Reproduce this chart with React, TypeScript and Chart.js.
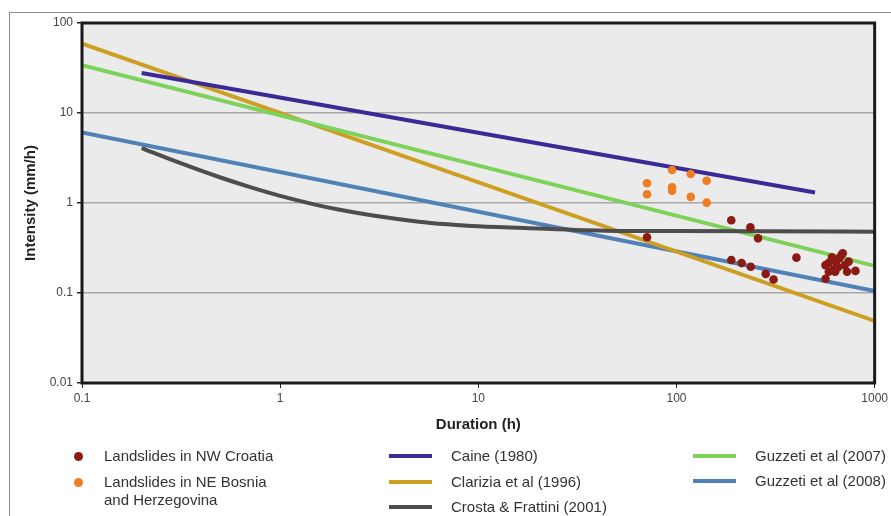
import React, { useEffect, useRef } from "react";
import { Chart, registerables } from "chart.js";

Chart.register(...registerables);

// Axis ticks (log-log)
const xTicks = [0.1, 1, 10, 100, 1000];
const yTicks = [0.01, 0.1, 1, 10, 100];

// Landslides in NW Croatia (duration h, intensity mm/h)
const croatiaDuration = [71, 189, 236, 258, 189, 213, 237, 282, 309, 403, 565, 800, 565, 587, 609, 621, 638, 653, 664, 679, 690, 706, 726, 632, 587, 739];
const croatiaIntensity = [0.416, 0.642, 0.537, 0.405, 0.233, 0.215, 0.196, 0.163, 0.141, 0.247, 0.144, 0.176, 0.204, 0.217, 0.249, 0.183, 0.223, 0.193, 0.243, 0.264, 0.276, 0.204, 0.172, 0.172, 0.172, 0.223];

// Landslides in NE Bosnia and Herzegovina
const bosniaDuration = [71, 71, 95, 95, 95, 118, 118, 142, 142];
const bosniaIntensity = [1.66, 1.25, 2.33, 1.49, 1.37, 2.1, 1.17, 1.77, 1.01];

// Threshold curves
const caineDuration = [0.2, 500];
const caineIntensity = [27.8, 1.31];

const clariziaDuration = [0.1, 1000];
const clariziaIntensity = [58.9, 0.049];

const crostaDuration = [0.2, 0.3, 0.5, 0.7, 1, 1.5, 2, 3, 5, 7, 10, 20, 50, 100, 1000];
const crostaIntensity = [4.08, 2.88, 1.92, 1.51, 1.2, 0.96, 0.84, 0.72, 0.62, 0.58, 0.55, 0.52, 0.49, 0.487, 0.48];

const guzzetti2007Duration = [0.1, 1000];
const guzzetti2007Intensity = [34, 0.2];

const guzzetti2008Duration = [0.1, 1000];
const guzzetti2008Intensity = [6.06, 0.105];

const COLORS = {
  croatia: "#8c1a14",
  bosnia: "#ef7d22",
  caine: "#3b2a96",
  clarizia: "#cc9f22",
  crosta: "#4d4d4d",
  g2007: "#7dd35a",
  g2008: "#5082b9",
};

const zip = (xs: number[], ys: number[]) => xs.map((x, i) => ({ x, y: ys[i] }));

const FONT = "'Liberation Sans', Arial, sans-serif";

const plotFrame = {
  id: "plotFrame",
  beforeDraw(chart: any) {
    const { ctx, chartArea: a } = chart;
    ctx.save();
    ctx.fillStyle = "#ebebeb";
    ctx.fillRect(a.left, a.top, a.right - a.left, a.bottom - a.top);
    ctx.restore();
  },
  afterDraw(chart: any) {
    const { ctx, chartArea: a } = chart;
    ctx.save();
    ctx.strokeStyle = "#1a1a1a";
    ctx.lineWidth = 3;
    ctx.strokeRect(a.left, a.top, a.right - a.left, a.bottom - a.top);
    ctx.restore();
  },
};

function LegendLine({ x, y, color, label }: { x: number; y: number; color: string; label: string }) {
  return (
    <>
      <div style={{ position: "absolute", left: x, top: y - 2, width: 43, height: 4, background: color }} />
      <div style={{ position: "absolute", left: x + 62, top: y - 9, lineHeight: "18px", fontSize: 15, whiteSpace: "nowrap" }}>{label}</div>
    </>
  );
}

function LegendDot({ x, y, color }: { x: number; y: number; color: string }) {
  return (
    <div style={{ position: "absolute", left: x - 4.5, top: y - 4.5, width: 9, height: 9, borderRadius: "50%", background: color }} />
  );
}

export default function App() {
  const canvasRef = useRef<HTMLCanvasElement | null>(null);

  useEffect(() => {
    if (!canvasRef.current) return;
    const lineDs = (label: string, xs: number[], ys: number[], color: string, tension = 0) => ({
      label,
      data: zip(xs, ys),
      borderColor: color,
      backgroundColor: color,
      borderWidth: 4,
      pointRadius: 0,
      tension,
      cubicInterpolationMode: tension ? "monotone" : "default",
      fill: false,
    });
    const pointDs = (label: string, xs: number[], ys: number[], color: string) => ({
      label,
      data: zip(xs, ys),
      showLine: false,
      borderColor: color,
      backgroundColor: color,
      pointBackgroundColor: color,
      pointBorderWidth: 0,
      pointRadius: 4.3,
    });

    const chart = new Chart(canvasRef.current, {
      type: "line",
      data: {
        datasets: [
          pointDs("Landslides in NW Croatia", croatiaDuration, croatiaIntensity, COLORS.croatia),
          pointDs("Landslides in NE Bosnia and Herzegovina", bosniaDuration, bosniaIntensity, COLORS.bosnia),
          lineDs("Caine (1980)", caineDuration, caineIntensity, COLORS.caine),
          lineDs("Crosta & Frattini (2001)", crostaDuration, crostaIntensity, COLORS.crosta, 0.4),
          lineDs("Guzzeti et al (2007)", guzzetti2007Duration, guzzetti2007Intensity, COLORS.g2007),
          lineDs("Clarizia et al (1996)", clariziaDuration, clariziaIntensity, COLORS.clarizia),
          lineDs("Guzzeti et al (2008)", guzzetti2008Duration, guzzetti2008Intensity, COLORS.g2008),
        ] as any,
      },
      options: {
        animation: false,
        responsive: false,
        devicePixelRatio: 1,
        layout: { padding: { left: 0, right: 16, top: 23, bottom: 0 } },
        plugins: { legend: { display: false }, tooltip: { enabled: false } },
        scales: {
          x: {
            type: "logarithmic",
            min: 0.1,
            max: 1000,
            afterBuildTicks: (s: any) => {
              s.ticks = xTicks.map((v) => ({ value: v }));
            },
            afterFit: (s: any) => {
              s.height = 133;
            },
            ticks: {
              autoSkip: false,
              maxRotation: 0,
              padding: 3,
              color: "#444",
              font: { family: FONT, size: 12 },
              callback: (v: any) => String(v),
            },
            grid: { drawOnChartArea: false, drawTicks: true, tickLength: 5, tickColor: "#222" },
            border: { display: false },
            title: {
              display: true,
              text: "Duration (h)",
              color: "#222",
              font: { family: FONT, size: 15, weight: "bold" },
              padding: { top: 0, bottom: 82 },
            },
          },
          y: {
            type: "logarithmic",
            min: 0.01,
            max: 100,
            afterBuildTicks: (s: any) => {
              s.ticks = yTicks.map((v) => ({ value: v }));
            },
            afterFit: (s: any) => {
              s.width = 82;
            },
            ticks: {
              autoSkip: false,
              padding: 4,
              color: "#444",
              font: { family: FONT, size: 12 },
              callback: (v: any) => String(v),
            },
            grid: { color: "#a8a8a8", lineWidth: 1.5, drawTicks: true, tickLength: 5, tickColor: "#222" },
            border: { display: false },
            title: {
              display: true,
              text: "Intensity (mm/h)",
              color: "#222",
              font: { family: FONT, size: 15, weight: "bold" },
              padding: { top: 22, bottom: 0 },
            },
          },
        },
      } as any,
      plugins: [plotFrame],
    });
    return () => chart.destroy();
  }, []);

  return (
    <div style={{ position: "absolute", left: 0, top: 0, width: 891, height: 516, background: "#fff", overflow: "hidden", fontFamily: FONT, color: "#333" }}>
      <div style={{ position: "absolute", left: 9, top: 12, right: -2, bottom: -2, borderTop: "1px solid #8c8c8c", borderLeft: "1px solid #8c8c8c" }} />
      <canvas ref={canvasRef} width={891} height={516} style={{ position: "absolute", left: 0, top: 0 }} />
      <LegendDot x={78} y={456} color={COLORS.croatia} />
      <div style={{ position: "absolute", left: 104, top: 447, lineHeight: "18px", fontSize: 15, whiteSpace: "nowrap" }}>Landslides in NW Croatia</div>
      <LegendDot x={78} y={482} color={COLORS.bosnia} />
      <div style={{ position: "absolute", left: 104, top: 473, lineHeight: "18px", fontSize: 15, whiteSpace: "nowrap" }}>
        Landslides in NE Bosnia
        <br />
        and Herzegovina
      </div>
      <LegendLine x={389} y={456} color={COLORS.caine} label="Caine (1980)" />
      <LegendLine x={389} y={482} color={COLORS.clarizia} label="Clarizia et al (1996)" />
      <LegendLine x={389} y={507} color={COLORS.crosta} label="Crosta & Frattini (2001)" />
      <LegendLine x={693} y={456} color={COLORS.g2007} label="Guzzeti et al (2007)" />
      <LegendLine x={693} y={481} color={COLORS.g2008} label="Guzzeti et al (2008)" />
    </div>
  );
}
